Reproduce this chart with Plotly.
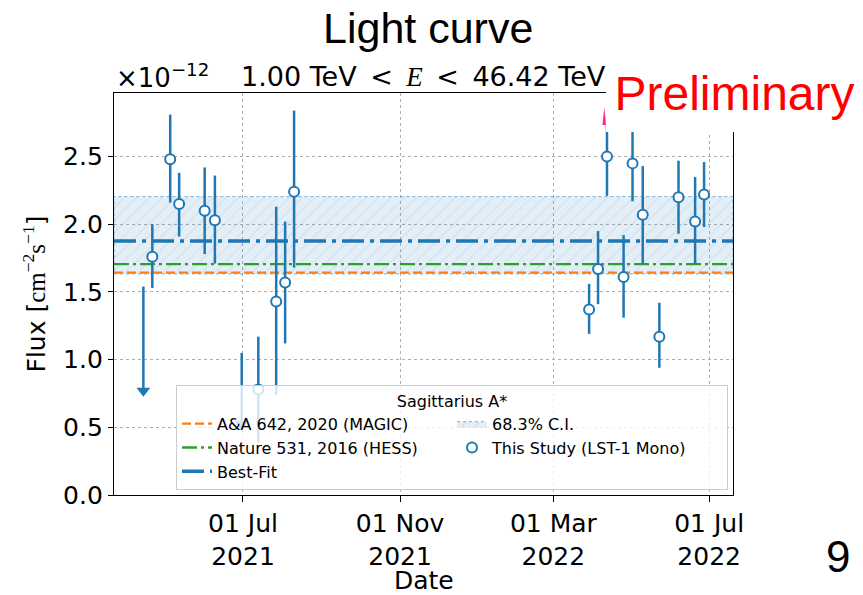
import plotly.graph_objects as go

# ---------------- data ----------------
dates = ["2021-04-21", "2021-05-05", "2021-05-12", "2021-06-01", "2021-06-09",
         "2021-07-13", "2021-07-27", "2021-08-03", "2021-08-10",
         "2022-03-29", "2022-04-05", "2022-04-12", "2022-04-25", "2022-05-02",
         "2022-05-10", "2022-05-23", "2022-06-07", "2022-06-20", "2022-06-27"]
flux = [1.76, 2.48, 2.15, 2.10, 2.03,
        0.78, 1.43, 1.57, 2.24,
        1.37, 1.67, 2.50, 1.61, 2.45,
        2.07, 1.17, 2.20, 2.02, 2.22]
err_hi = [0.24, 0.33, 0.23, 0.32, 0.33,
          0.39, 0.70, 0.45, 0.60,
          0.19, 0.28, 0.30, 0.31, 0.29,
          0.36, 0.25, 0.27, 0.33, 0.24]
err_lo = [0.23, 0.32, 0.24, 0.32, 0.32,
          0.39, 0.69, 0.45, 0.56,
          0.18, 0.26, 0.29, 0.30, 0.28,
          0.36, 0.23, 0.27, 0.31, 0.24]

ul_dates = ["2021-04-14", "2021-06-30"]
ul_flux = [1.54, 1.05]
ul_arrow_frac = 0.5

best_fit = 1.877
ci_low, ci_high = 1.633, 2.205
magic_flux = 1.643
hess_flux = 1.705

x_min, x_max = "2021-03-22", "2022-07-19 16:00"
y_min, y_max = 0.0, 2.97

xtick_vals = ["2021-07-01", "2021-11-01", "2022-03-01", "2022-07-01"]
xtick_text = ["01 Jul<br>2021", "01 Nov<br>2021", "01 Mar<br>2022", "01 Jul<br>2022"]

BLUE, ORANGE, GREEN = "#1f77b4", "#ff7f0e", "#2ca02c"

# ---------------- geometry ----------------
W, H = 863, 595
L, R, T, B = 114, 733, 93, 495


def px_x(x):
    return (x - L) / (R - L)


def px_y(y):
    return (B - y) / (B - T)


fig = go.Figure()

# 68.3% C.I. band
fig.add_trace(go.Scatter(
    x=[x_min, x_max, x_max, x_min, x_min],
    y=[ci_low, ci_low, ci_high, ci_high, ci_low],
    fill="toself", mode="lines",
    fillcolor="rgba(31,119,180,0.12)",
    fillpattern=dict(shape="/", fgcolor="rgba(31,119,180,0.25)",
                     bgcolor="rgba(31,119,180,0.12)", size=9, solidity=0.12),
    line=dict(color="rgba(31,119,180,0.55)", width=1, dash="dot"),
    name="68.3% C.I.", legendrank=2, hoverinfo="skip"))

fig.add_trace(go.Scatter(
    x=[x_min, x_max], y=[magic_flux, magic_flux], mode="lines",
    line=dict(color=ORANGE, width=2.3, dash="9px,4px"),
    name="A&amp;A 642, 2020 (MAGIC)", legendrank=1))

fig.add_trace(go.Scatter(
    x=[x_min, x_max], y=[hess_flux, hess_flux], mode="lines",
    line=dict(color=GREEN, width=2.3, dash="15px,4px,3px,4px"),
    name="Nature 531, 2016 (HESS)", legendrank=3))

fig.add_trace(go.Scatter(
    x=[x_min, x_max], y=[best_fit, best_fit], mode="lines",
    line=dict(color=BLUE, width=3.5, dash="22px,6px,4px,6px"),
    name="Best-Fit", legendrank=5))

# upper limits
fig.add_trace(go.Scatter(
    x=ul_dates, y=ul_flux, mode="markers",
    marker=dict(size=1, color="rgba(0,0,0,0)"),
    error_y=dict(type="data", symmetric=False, array=[0] * len(ul_flux),
                 arrayminus=[v * ul_arrow_frac for v in ul_flux],
                 color=BLUE, thickness=2.5, width=0),
    showlegend=False, hoverinfo="skip"))
fig.add_trace(go.Scatter(
    x=ul_dates, y=[v * (1 - ul_arrow_frac) for v in ul_flux], mode="markers",
    marker=dict(symbol="triangle-down", size=12, color=BLUE),
    showlegend=False, hoverinfo="skip"))

# measurements
fig.add_trace(go.Scatter(
    x=dates, y=flux, mode="markers",
    marker=dict(symbol="circle", size=10, color="white",
                line=dict(color=BLUE, width=2)),
    error_y=dict(type="data", symmetric=False, array=err_hi, arrayminus=err_lo,
                 color=BLUE, thickness=2.5, width=0),
    name="This Study (LST-1 Mono)", legendrank=4))

fig.update_layout(
    width=W, height=H,
    margin=dict(l=L, r=W - R, t=T, b=H - B, autoexpand=False),
    paper_bgcolor="white", plot_bgcolor="white",
    font=dict(family="DejaVu Sans", color="black", size=25),
    legend=dict(
        x=px_x(176), y=px_y(385), xanchor="left", yanchor="top",
        orientation="h", entrywidth=230, entrywidthmode="pixels",
        bgcolor="rgba(255,255,255,0.8)", bordercolor="#cccccc", borderwidth=1,
        font=dict(family="DejaVu Sans", size=16, color="black"),
        title=dict(text="Sagittarius A*", side="top center",
                   font=dict(family="DejaVu Sans", size=16, color="black")),
        itemwidth=30, tracegroupgap=0),
    xaxis=dict(
        range=[x_min, x_max], type="date",
        tickmode="array", tickvals=xtick_vals, ticktext=xtick_text,
        tickfont=dict(family="DejaVu Sans", size=25),
        ticks="outside", ticklen=6, tickwidth=1.3, tickcolor="black",
        showline=True, linecolor="black", linewidth=1.3, mirror=True,
        showgrid=True, gridcolor="#b0b0b0", gridwidth=1, griddash="dot",
        zeroline=False),
    yaxis=dict(
        range=[y_min, y_max], tickmode="linear", tick0=0, dtick=0.5, tickformat=".1f",
        tickfont=dict(family="DejaVu Sans", size=25),
        ticks="outside", ticklen=5, tickwidth=1.3, tickcolor="black",
        showline=True, linecolor="black", linewidth=1.3, mirror=True,
        showgrid=True, gridcolor="#b0b0b0", gridwidth=1, griddash="dot",
        zeroline=False,
        title=dict(text="Flux [<span style='font-family:Liberation Serif'>cm<sup>−2</sup>s<sup>−1</sup></span>]",
                   font=dict(family="DejaVu Sans", size=25), standoff=10)),
)

annotations = [
    dict(text="Light curve", x=px_x(427.5), y=px_y(28), xref="paper", yref="paper",
         xanchor="center", yanchor="middle", showarrow=False,
         font=dict(family="Liberation Sans", size=43, color="black")),
    dict(text="×10<sup>−12</sup>", x=px_x(114), y=px_y(76), xref="paper", yref="paper",
         xanchor="left", yanchor="middle", showarrow=False,
         font=dict(family="DejaVu Sans", size=26, color="black")),
    dict(text="1.00 TeV\u2002&lt;\u2002<span style='font-family:Liberation Serif'><i>E</i></span>\u2002&lt;\u200246.42 TeV",
         x=0.5, y=px_y(77), xref="paper", yref="paper",
         xanchor="center", yanchor="middle", showarrow=False,
         font=dict(family="DejaVu Sans", size=27, color="black")),
    dict(text="Date", x=0.5, y=px_y(580), xref="paper", yref="paper",
         xanchor="center", yanchor="middle", showarrow=False,
         font=dict(family="DejaVu Sans", size=25, color="black")),
    dict(text="Preliminary", x=px_x(606), y=px_y(55), xref="paper", yref="paper",
         xanchor="left", yanchor="top", showarrow=False,
         width=257, height=77, align="center", valign="middle",
         bgcolor="white", borderpad=0, borderwidth=0,
         font=dict(family="Liberation Sans", size=48, color="#ff0000")),
    dict(text="9", x=px_x(838), y=px_y(556), xref="paper", yref="paper",
         xanchor="center", yanchor="middle", showarrow=False,
         font=dict(family="Liberation Sans", size=44, color="black")),
]
fig.update_layout(annotations=annotations)

# small magenta pointer artifact next to the "Preliminary" box
fig.add_shape(type="path", xref="paper", yref="paper", layer="above",
              path=f"M {px_x(602.5)},{px_y(125)} L {px_x(604.3)},{px_y(107)} L {px_x(605.8)},{px_y(125)} Z",
              fillcolor="#ff1f8f", line=dict(width=0))

fig.write_html("out.html")
